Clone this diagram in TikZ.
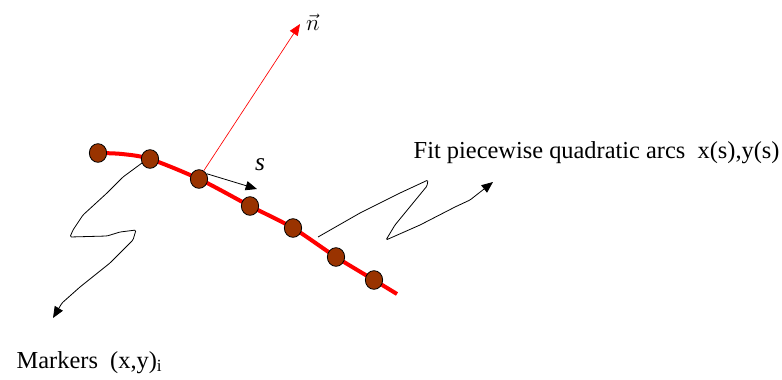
\documentclass[tikz,border=0pt]{standalone}
\usepackage{fontspec}
\setmainfont{Liberation Serif}
\usetikzlibrary{arrows.meta, positioning, shapes.geometric, backgrounds}
\definecolor{markerbrown}{RGB}{153, 51, 0}

\begin{document}
\begin{tikzpicture}[
  x=0.75pt, y=-0.75pt,
  marker/.style={
    draw, fill=markerbrown, ellipse, inner sep=0pt, line width=0.6pt,
    minimum width=13pt, minimum height=14pt
  },
  fitline/.style={red, line width=3pt},
  normal/.style={red, line width=0.5pt, -{Triangle[length=8.5pt,width=7pt]}},
  tangent/.style={black, line width=0.6pt, -{Triangle[length=8.5pt,width=7pt]}},
  squiggle/.style={black, line width=0.6pt, rounded corners=1pt,
    -{Triangle[length=8.5pt,width=7pt]}},
  label/.style={font=\fontsize{18.3}{20}\selectfont}
]
\useasboundingbox (0,0) rectangle (782,379);

% markers
\node[marker] (m1) at (98,153) {};
\node[marker] (m2) at (150,159) {};
\node[marker] (m3) at (199,179) {};
\node[marker] (m4) at (250,206) {};
\node[marker] (m5) at (293,228) {};
\node[marker] (m6) at (336,257) {};
\node[marker] (m7) at (374,280) {};
\coordinate (fitend) at (397,294);

\begin{scope}[on background layer]
\draw[fitline] plot[smooth, tension=0.5] coordinates
  {(m1) (122,154) (m2) (m3) (m4) (m5) (m6) (m7) (fitend)};
\end{scope}

% normal and tangent
\coordinate (ntip) at (300,24);
\coordinate (stip) at (257,189);
\draw[normal] (m3.60) -- (ntip);
\node[right=1pt of ntip, yshift=1pt, font=\fontsize{18}{18}\selectfont] (n) {$\vec{n}$};
\draw[tangent] (m3.35) -- (stip);
\node[font=\fontsize{19}{20}\selectfont\itshape] (s) at (260,165) {s};

% labels
\node[label, anchor=base west] (fit) at (409,158) {Fit piecewise quadratic arcs\ \ x(s),y(s)};
\node[label, anchor=base west] (mk) at (12,368) {Markers\ \ (x,y)\textsubscript{i}};

% hand-drawn arrows
\coordinate (lstart) at (142,163);
\coordinate (ltip) at (53,318);
\draw[squiggle] (lstart) -- (123,177) -- (107,193) -- (83,215) -- (73,230)
  -- (70,237) -- (107,236) -- (120,232) -- (136,230) -- (133,240)
  -- (110,263) -- (80,287) -- (62,303) -- (ltip);
\coordinate (rstart) at (318,237);
\coordinate (rtip) at (493,182);
\draw[squiggle] (rstart) -- (360,213) -- (400,193) -- (428,180) -- (427,186)
  -- (395,225) -- (386,240) -- (420,225) -- (455,207) -- (470,200) -- (rtip);
\end{tikzpicture}
\end{document}
